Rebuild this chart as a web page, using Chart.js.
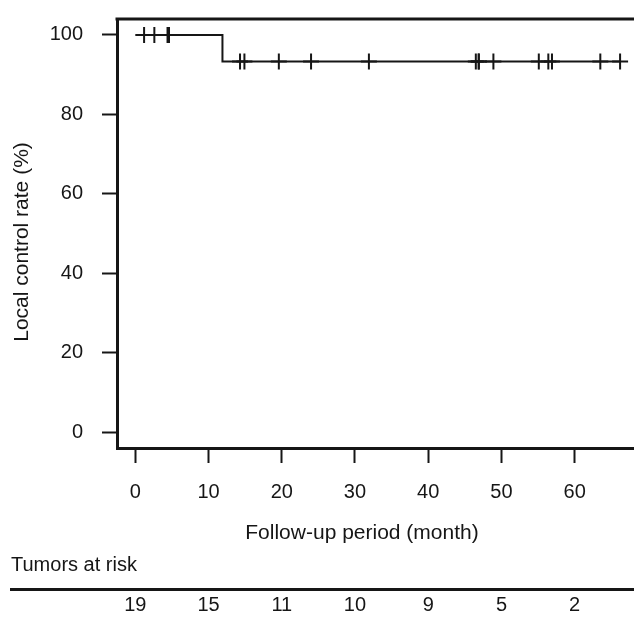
<!DOCTYPE html>
<html>
<head>
<meta charset="utf-8">
<script src="https://cdn.jsdelivr.net/npm/chart.js@4/dist/chart.umd.min.js"></script>
<style>
  html, body { margin: 0; padding: 0; background: #fff; }
  #km { display: block; }
</style>
</head>
<body>
<canvas id="km" width="634" height="621"></canvas>
<script>
// Kaplan-Meier local control
const kmTimes = [0, 11.9, 66.2];
const kmSurvival = [100, 93.33, 93.33];
const censorTimes = [1.2, 2.6, 4.4, 4.6, 14.3, 14.9, 19.6, 24.0, 31.9, 46.5, 46.9, 46.9, 48.9, 55.1, 56.4, 56.9, 63.5, 66.2];

const xTicks = [0, 10, 20, 30, 40, 50, 60];
const yTicks = [0, 20, 40, 60, 80, 100];
const riskCounts = [19, 15, 11, 10, 9, 5, 2];

const FONT = "'Liberation Sans', Arial, sans-serif";
const INK = '#161616';

function survivalAt(t) {
  let s = kmSurvival[0];
  for (let i = 0; i < kmTimes.length; i++) {
    if (kmTimes[i] <= t) s = kmSurvival[i];
  }
  return s;
}

const extras = {
  id: 'extras',
  afterDraw(chart) {
    const ctx = chart.ctx;
    const area = chart.chartArea;
    const xs = chart.scales.x;
    ctx.save();
    ctx.strokeStyle = INK;
    ctx.fillStyle = INK;

    // top edge of the box
    ctx.lineWidth = 3;
    ctx.beginPath();
    ctx.moveTo(area.left - 1.5, area.top);
    ctx.lineTo(area.right, area.top);
    ctx.stroke();

    ctx.textBaseline = 'middle';

    // axis titles
    ctx.font = '21px ' + FONT;
    ctx.textAlign = 'center';
    ctx.fillText('Follow-up period (month)', 362, 533);
    ctx.save();
    ctx.translate(22, 242);
    ctx.rotate(-Math.PI / 2);
    ctx.fillText('Local control rate (%)', 0, 0);
    ctx.restore();

    // number at risk table
    ctx.font = '20px ' + FONT;
    ctx.textAlign = 'left';
    ctx.fillText('Tumors at risk', 11, 565);
    ctx.lineWidth = 3;
    ctx.beginPath();
    ctx.moveTo(10, 589.5);
    ctx.lineTo(chart.width, 589.5);
    ctx.stroke();
    ctx.textAlign = 'center';
    riskCounts.forEach((n, i) => {
      ctx.fillText(String(n), xs.getPixelForValue(xTicks[i]), 605);
    });
    ctx.restore();
  }
};

new Chart(document.getElementById('km'), {
  type: 'line',
  data: {
    datasets: [{
      label: 'Local control',
      data: kmTimes.map((t, i) => ({ x: t, y: kmSurvival[i] })),
      stepped: 'before',
      borderColor: INK,
      borderWidth: 2,
      pointRadius: 0,
      fill: false
    }, {
      type: 'scatter',
      label: 'Censored',
      data: censorTimes.map(t => ({ x: t, y: survivalAt(t) })),
      pointStyle: 'cross',
      pointRadius: 8,
      pointBorderWidth: 2,
      borderColor: INK,
      backgroundColor: INK,
      showLine: false
    }]
  },
  options: {
    responsive: false,
    animation: false,
    layout: { autoPadding: false, padding: { top: 19, right: 0, bottom: 0, left: 0 } },
    plugins: {
      legend: { display: false },
      tooltip: { enabled: false }
    },
    scales: {
      x: {
        type: 'linear',
        min: -2.5,
        max: 68.1,
        afterBuildTicks: s => { s.ticks = xTicks.map(v => ({ value: v })); },
        afterFit: s => { s.height = 173; s.paddingLeft = 0; s.paddingRight = 0; },
        grid: { drawOnChartArea: false, tickLength: 15, tickColor: INK, tickWidth: 2 },
        border: { color: INK, width: 3 },
        ticks: { color: INK, font: { family: FONT, size: 20 }, padding: 17, maxRotation: 0 }
      },
      y: {
        type: 'linear',
        min: -4,
        max: 104,
        afterBuildTicks: s => { s.ticks = yTicks.map(v => ({ value: v })); },
        afterFit: s => { s.width = 117; s.paddingTop = 0; s.paddingBottom = 0; },
        grid: { drawOnChartArea: false, tickLength: 15, tickColor: INK, tickWidth: 2 },
        border: { color: INK, width: 3 },
        ticks: { color: INK, font: { family: FONT, size: 20 }, padding: 19 }
      }
    }
  },
  plugins: [extras]
});
</script>
</body>
</html>
